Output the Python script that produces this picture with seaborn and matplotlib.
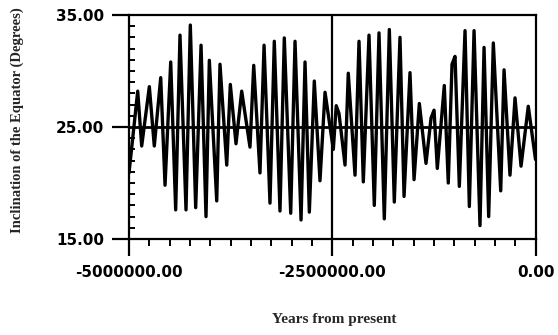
import matplotlib
matplotlib.use("Agg")
import matplotlib.pyplot as plt
import seaborn as sns
import pandas as pd
from matplotlib.ticker import FormatStrFormatter, MultipleLocator

# ---- data ----
years_kyr = [-5000, -4893, -4844, -4750, -4689, -4610, -4557, -4487, -4426, -4373,
             -4299, -4246, -4180, -4114, -4053, -4012, -3921, -3881, -3798, -3754,
             -3684, -3614, -3512, -3466, -3389, -3339, -3266, -3213, -3143, -3090,
             -3011, -2958, -2884, -2835, -2782, -2721, -2651, -2589, -2487, -2451,
             -2417, -2343, -2303, -2220, -2171, -2118, -2048, -1983, -1925, -1860,
             -1798, -1737, -1667, -1617, -1544, -1494, -1429, -1347, -1285, -1248,
             -1208, -1122, -1073, -1027, -990, -937, -867, -814, -756, -683,
             -633, -576, -519, -428, -387, -314, -252, -178, -89, 0]
obliquity = [20.9, 28.2, 23.3, 28.6, 23.3, 29.4, 19.8, 30.8, 17.6, 33.2,
             17.6, 34.1, 17.8, 32.3, 17.0, 30.95, 18.4, 30.6, 21.6, 28.8,
             23.5, 28.2, 23.2, 30.5, 20.9, 32.3, 18.2, 32.65, 17.5, 32.95,
             17.3, 32.65, 16.7, 30.8, 17.4, 29.1, 20.2, 28.1, 23.0, 26.9,
             26.2, 21.6, 29.8, 20.7, 32.65, 20.1, 33.2, 18.0, 33.4, 16.8,
             33.7, 18.3, 33.0, 18.8, 29.85, 20.3, 27.1, 21.75, 25.8, 26.5,
             21.3, 28.7, 20.0, 30.6, 31.3, 19.7, 33.6, 17.9, 33.6, 16.2,
             32.1, 17.0, 32.5, 19.3, 30.1, 20.7, 27.6, 21.5, 26.85, 22.1]
x_ticks = [-5000000, -2500000, 0]
y_ticks = [15, 25, 35]
x_label = "Years from present"
y_label = "Inclination of the Equator (Degrees)"

df = pd.DataFrame({"years": [v * 1000 for v in years_kyr], "obliquity": obliquity})

sns.set_theme(style="ticks")
plt.rcParams["font.family"] = ["DejaVu Sans"]
plt.rcParams["axes.unicode_minus"] = False

fig = plt.figure(figsize=(5.58, 3.35), dpi=100)
ax = fig.add_axes([0.2312, 0.2866, 0.7285, 0.6687])

sns.lineplot(data=df, x="years", y="obliquity", ax=ax, color="black",
             linewidth=2.4, estimator=None, sort=False)

ax.axhline(25, color="black", linewidth=2.0, zorder=3)
ax.axvline(-2500000, color="black", linewidth=1.6, zorder=3)

ax.set_xlim(-5000000, 0)
ax.set_ylim(15, 35)
ax.set_xticks(x_ticks)
ax.set_yticks(y_ticks)
ax.xaxis.set_minor_locator(MultipleLocator(250000))
ax.yaxis.set_minor_locator(MultipleLocator(1))
ax.xaxis.set_major_formatter(FormatStrFormatter("%.2f"))
ax.yaxis.set_major_formatter(FormatStrFormatter("%.2f"))

for s in ax.spines.values():
    s.set_linewidth(1.6)
    s.set_color("black")

ax.tick_params(axis="x", which="major", direction="out", length=12, width=1.6, pad=7,
               colors="black", labelsize=11)
ax.tick_params(axis="y", which="major", direction="out", length=12, width=1.6, pad=6,
               colors="black", labelsize=11)
ax.tick_params(axis="x", which="minor", direction="out", length=5, width=1.4, colors="black")
ax.tick_params(axis="y", which="minor", direction="in", length=4.5, width=1.4, colors="black")
for lbl in ax.get_xticklabels() + ax.get_yticklabels():
    lbl.set_fontweight("bold")

ax.set_xlabel(x_label, fontsize=11, fontweight="bold", family=["Liberation Serif"])
ax.set_ylabel(y_label, fontsize=10.5, fontweight="bold", family=["Liberation Serif"])
ax.xaxis.set_label_coords(0.505, -0.33)
ax.yaxis.set_label_coords(-0.258, 0.53)

fig.savefig("out.png", dpi=100)
